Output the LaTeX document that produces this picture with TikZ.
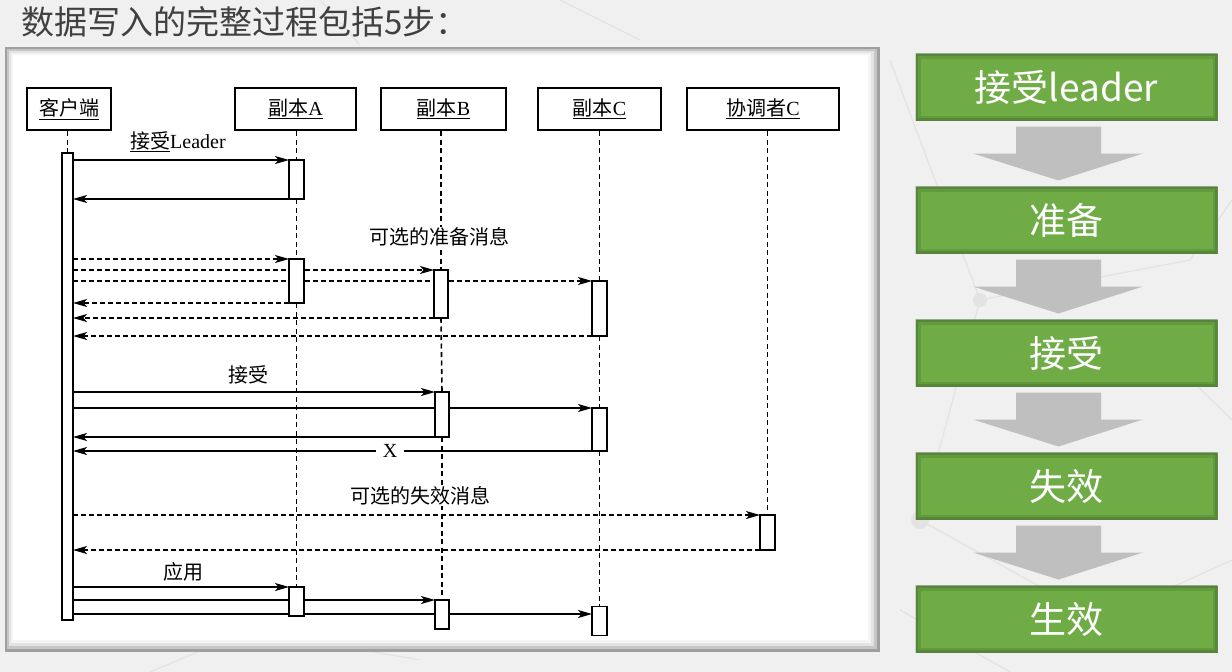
\documentclass[tikz,border=0pt]{standalone}
\usepackage{fontspec}
\setmainfont{Liberation Serif}
\newfontfamily\cjk{Noto Sans CJK SC}
\usetikzlibrary{arrows.meta}
\definecolor{bg}{HTML}{F0F0F0}
\definecolor{titlegray}{HTML}{404040}
\definecolor{stepgreen}{HTML}{6FAC46}
\definecolor{stepedge}{HTML}{3F6A26}
\definecolor{arrgray}{HTML}{BFBFBF}
\definecolor{netgray}{HTML}{E3E3E3}
\newcommand\dfont{\fontsize{20}{24}\selectfont}
\begin{document}
\begin{tikzpicture}[x=1pt, y=-1pt,
  hdr/.style={draw, line width=2.4pt, fill=white, minimum height=42pt, inner sep=0pt, font=\dfont},
  act/.style={draw, fill=white, line width=1.8pt, minimum width=15pt, inner sep=0pt, outer sep=0pt},
  life/.style={line width=1.6pt, dash pattern=on 5pt off 3.5pt},
  msg/.style={line width=1.4pt, -{Stealth[length=14pt,width=8pt,inset=3.5pt]}},
  dmsg/.style={msg, dash pattern=on 5pt off 3pt},
  lbl/.style={font=\dfont, inner sep=1pt, fill=white},
  stepbox/.style={fill=stepgreen, draw=stepedge!70, line width=1pt, minimum width=301pt, minimum height=66pt, inner sep=0pt, text=white, font=\cjk\fontsize{37}{44}\selectfont},
  garrow/.style={fill=arrgray}]
\useasboundingbox (0,0) rectangle (1232,672);
\fill[bg] (0,0) rectangle (1232,672);
% faint background network
\begin{scope}[netgray, line width=1.2pt]
  \draw (890,60) -- (980,300) -- (1190,260) -- (1232,200);
  \draw (980,300) -- (920,520) -- (1100,620) -- (1232,560);
  \draw (1140,330) -- (1232,420);
  \draw (900,610) -- (1010,672);
  \draw (150,672) -- (250,630) -- (420,660);
  \draw (560,0) -- (640,40);
  \draw (320,0) -- (360,45);
  \fill (920,520) circle (9pt);
  \fill (980,300) circle (7pt);
  \fill (1100,620) circle (8pt);
\end{scope}
% title
\node[anchor=west, text=titlegray, inner sep=0pt, font=\cjk\fontsize{33}{38}\selectfont] (title) at (21,22) {数据写入的完整过程包括5步：};
% panel with shadowed frame
\fill[gray!75] (5,47) rectangle (880,652);
\fill[gray!45] (7,49) rectangle (877,649);
\fill[gray!22] (9,51) rectangle (874,646);
\fill[gray!9] (11,53) rectangle (871,643);
\fill[white] (13,55) rectangle (868,640);
% headers
\node[hdr, minimum width=84pt] (hc) at (69,109) {\underline{{\cjk 客户端}}};
\node[hdr, minimum width=121pt] (ha) at (295.5,109) {\underline{{\cjk 副本}A}};
\node[hdr, minimum width=125pt] (hb) at (443.5,109) {\underline{{\cjk 副本}B}};
\node[hdr, minimum width=123pt] (hcc) at (599.5,109) {\underline{{\cjk 副本}C}};
\node[hdr, minimum width=152pt] (hk) at (763,109) {\underline{{\cjk 协调者}C}};
% activation boxes (positions only, drawn later)
\path
  node[act, minimum width=11pt, minimum height=467pt] (cb) at (67.5,386.5) {}
  node[act, minimum height=39pt] (a1) at (296.5,179.5) {}
  node[act, minimum height=44pt] (a2) at (296.5,281) {}
  node[act, minimum width=14pt, minimum height=48pt] (b2) at (441,294) {}
  node[act, minimum height=55pt] (c2) at (599.5,308.5) {}
  node[act, minimum width=14pt, minimum height=45pt] (b3) at (442,414.5) {}
  node[act, minimum height=43pt] (c3) at (599.5,429.5) {}
  node[act, minimum height=35pt] (k4) at (767.5,532.5) {}
  node[act, minimum height=29pt] (a5) at (296.5,601.5) {}
  node[act, minimum width=14pt, minimum height=29pt] (b5) at (442,614.5) {}
  node[act, minimum height=29pt] (c5) at (599.5,621) {};
% lifelines
\draw[life] (hc.south -| cb.north) -- (cb.north);
\draw[life] (ha.south -| a1.north) -- (a1.north);
\draw[life] (a1.south) -- (a2.north);
\draw[life] (a2.south) -- (a5.north);
\draw[life] (hb.south -| b2.north) -- (b2.north);
\draw[life] (b2.south) -- (b3.north);
\draw[life] (b3.south) -- (b5.north);
\draw[life] (hcc.south -| c2.north) -- (c2.north);
\draw[life] (c2.south) -- (c3.north);
\draw[life] (c3.south) -- (c5.north);
\draw[life] (hk.south -| k4.north) -- (k4.north);
% step 1
\draw[msg] (cb.east |- a1.north west) -- (a1.north west);
\draw[msg] (a1.south west) -- (cb.east |- a1.south west);
\node[lbl] (l1) at (178,142) {\underline{\cjk 接受}Leader};
% step 2
\node[lbl] (l2) at (439,237) {\cjk 可选的准备消息};
\draw[dmsg] (cb.east |- a2.north west) -- (a2.north west);
\draw[dmsg] (cb.east |- b2.north west) -- (b2.north west);
\draw[dmsg] (cb.east |- c2.north west) -- (c2.north west);
\draw[dmsg] (a2.south west) -- (cb.east |- a2.south west);
\draw[dmsg] (b2.south west) -- (cb.east |- b2.south west);
\draw[dmsg] (c2.south west) -- (cb.east |- c2.south west);
% step 3
\node[lbl] (l3) at (248,375) {\cjk 接受};
\draw[msg] (cb.east |- b3.north west) -- (b3.north west);
\draw[msg] (cb.east |- c3.north west) -- (c3.north west);
\draw[msg] (b3.south west) -- (cb.east |- b3.south west);
\draw[msg] (c3.south west) -- (cb.east |- c3.south west);
\node[lbl, inner xsep=7pt] (lx) at (390,451) {X};
% step 4
\node[lbl] (l4) at (420,496) {\cjk 可选的失效消息};
\draw[dmsg] (cb.east |- k4.north west) -- (k4.north west);
\draw[dmsg] (k4.south west) -- (cb.east |- k4.south west);
% step 5
\node[lbl] (l5) at (183,572) {\cjk 应用};
\coordinate (y5) at (0,614);
\draw[msg] (cb.east |- a5.north west) -- (a5.north west);
\draw[msg] (cb.east |- b5.north west) -- (b5.north west);
\draw[msg] (cb.east |- y5) -- (c5.west |- y5);
% activation boxes on top
\foreach \n in {cb,a1,a2,b2,c2,b3,c3,k4,a5,b5,c5}
  \draw[fill=white, line width=1.8pt] (\n.north west) rectangle (\n.south east);
% right-hand steps
\node[stepbox] (s1) at (1066.5,87) {接受leader};
\node[stepbox] (s2) at (1066.5,220) {准备};
\node[stepbox] (s3) at (1066.5,353) {接受};
\node[stepbox] (s4) at (1066.5,486) {失效};
\node[stepbox] (s5) at (1066.5,619) {生效};
\foreach \s in {s1,s2,s3,s4,s5} {
  \begin{scope}
    \clip (\s.south west) rectangle (\s.north east);
    \draw[stepedge, opacity=0.25, line width=10pt] (\s.south west) rectangle (\s.north east);
    \draw[stepedge, opacity=0.35, line width=5pt] (\s.south west) rectangle (\s.north east);
  \end{scope}
}
\foreach \s in {s1,s2,s3,s4}
  \fill[garrow, shift={(\s.south)}] (-50.5,6) -- (34.5,6) -- (34.5,33) -- (76.5,33) -- (-8,60) -- (-93.5,33) -- (-50.5,33) -- cycle;
\end{tikzpicture}
\end{document}
